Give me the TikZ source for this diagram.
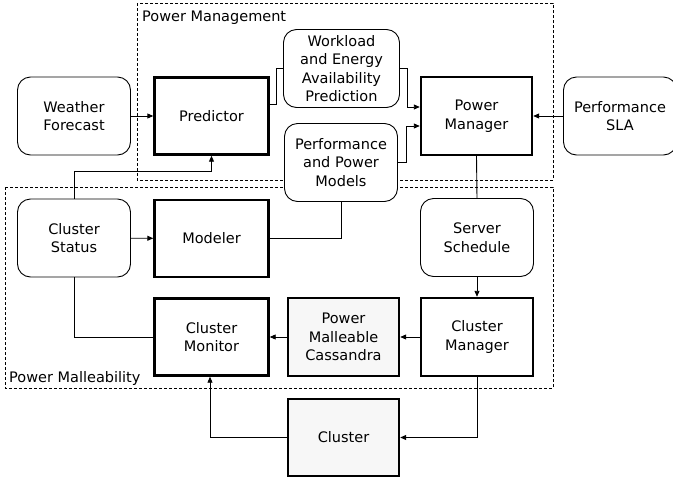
\documentclass[tikz,border=0pt]{standalone}
\usepackage{fontspec}
\setmainfont{DejaVu Sans}
\usetikzlibrary{arrows.meta}
\tikzset{
  txt/.style={align=center, font=\fontsize{14.5}{18.5}\selectfont, inner sep=0pt},
  rbox/.style={txt, draw, line width=0.9pt, rounded corners=13pt, minimum width=113pt, minimum height=78pt, fill=white},
  tbox/.style={txt, draw, line width=2.4pt, minimum width=114pt, minimum height=77pt, fill=white},
  gbox/.style={tbox, fill=black!3},
  conn/.style={line width=0.9pt},
  arr/.style={conn, -{Triangle[length=6pt,width=5pt]}},
  grp/.style={dashed, line width=0.7pt, dash pattern=on 3pt off 2pt},
  grplabel/.style={anchor=base west, inner sep=0pt, font=\fontsize{14.5}{18.5}\selectfont}
}
\begin{document}
\begin{tikzpicture}[x=1pt,y=-1pt]
\useasboundingbox (0,0) rectangle (673,483);
\clip (0,0) rectangle (673,483);
% groups
\draw[grp] (137,3) rectangle (553,180);
\draw[grp] (5,187) rectangle (553,388);
\node[grplabel] (lblpm) at (142,21) {Power Management};
\node[grplabel] (lblmal) at (9,382) {Power Malleability};
% nodes
\node[rbox] (wf) at (74,116) {Weather\\Forecast};
\node[tbox] (pred) at (211.5,116) {Predictor};
\node[rbox, minimum width=116pt] (wl) at (341.5,68.5) {Workload\\and Energy\\Availability\\Prediction};
\node[tbox, minimum width=111pt, minimum height=78pt] (pm) at (476.5,116) {Power\\Manager};
\node[rbox] (sla) at (620,116) {Performance\\SLA};
\node[rbox] (models) at (341,162.5) {Performance\\and Power\\Models};
\node[rbox] (cs) at (74,238) {Cluster\\Status};
\node[tbox] (modeler) at (211.5,238.5) {Modeler};
\node[rbox] (ss) at (477,237.5) {Server\\Schedule};
\node[tbox] (cmon) at (211.5,337) {Cluster\\Monitor};
\node[gbox, minimum width=111pt, minimum height=78pt] (cass) at (343.5,337) {Power\\Malleable\\Cassandra};
\node[tbox, minimum width=112pt, minimum height=78pt] (cman) at (477,337) {Cluster\\Manager};
\node[gbox, minimum width=111pt] (cluster) at (343.5,437.5) {Cluster};
% connectors
\draw[arr] (wf) -- (pred);
\draw[conn] ([yshift=12pt]pred.east) -- ++(7,0) |- (wl.west);
\draw[arr] (wl.east) -- ++(7,0) |- ([yshift=9pt]pm.west);
\draw[arr] (models.east) -- ++(8,0) |- ([yshift=-10pt]pm.west);
\draw[conn] (modeler.east) -| (models.south);
\draw[arr] (cs.north) -- ++(0,-27) -| (pred.south);
\draw[arr] (cs) -- (modeler);
\draw[conn] (cs.south) |- (cmon.west);
\draw[arr] (sla) -- (pm);
\draw[conn] (pm.south) -- (ss.north);
\draw[arr] (ss.south) -- (cman.north);
\draw[arr] (cman) -- (cass);
\draw[arr] (cass) -- (cmon);
\draw[arr] (cman.south) |- (cluster.east);
\draw[arr] (cluster.west) -| ([xshift=-1.5pt]cmon.south);
\end{tikzpicture}
\end{document}
